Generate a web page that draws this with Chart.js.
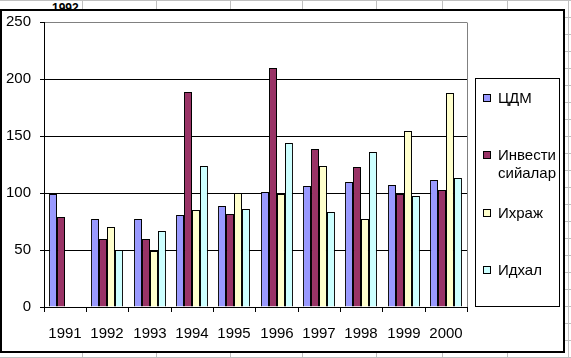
<!DOCTYPE html>
<html>
<head>
  <title>ЦДМ, Инвестисийалар, Ихраж, Идхал</title>
  <script src="https://cdn.jsdelivr.net/npm/chart.js"></script>
  <style>
    body { margin: 0; width: 571px; height: 358px; overflow: hidden; position: relative;
           background: #fff repeating-linear-gradient(to bottom, #c0c0c0 0, #c0c0c0 1px, transparent 1px, transparent 17px);
           font-family: "Liberation Sans", Arial, sans-serif; }
    .col { position: absolute; top: 0; bottom: 0; width: 1px; background: #c0c0c0; }
    #cell { position: absolute; left: 52px; top: 1px; font-weight: bold; font-size: 12px; }
    #frame { position: absolute; left: 0; top: 9px; width: 565px; height: 344px; box-sizing: border-box;
             border: 2px solid #000; background: #fff; }
    #wrap { position: absolute; left: 0; top: 0; width: 561px; height: 340px; }
    #legend { position: absolute; left: 473px; top: 67px; width: 85px; height: 229px; box-sizing: border-box;
              border: 1px solid #000; font-size: 15px; }
    .item { position: absolute; left: 7px; line-height: 18px; }
    .sw { position: absolute; left: 0; top: 5px; width: 6px; height: 6px; border: 1px solid #000; }
    .txt { margin-left: 15px; }
  </style>
</head>
<body>
  <div class="col" style="left:82px"></div>
  <div class="col" style="left:156px"></div>
  <div class="col" style="left:230px"></div>
  <div class="col" style="left:302px"></div>
  <div class="col" style="left:376px"></div>
  <div class="col" style="left:442px"></div>
  <div class="col" style="left:507px"></div>
  <div class="col" style="left:568px"></div>
  <div id="cell">1992</div>
  <div id="frame">
    <div id="wrap"><canvas id="chart"></canvas></div>
    <div id="legend"></div>
  </div>

  <script>
    const years = ['1991', '1992', '1993', '1994', '1995', '1996', '1997', '1998', '1999', '2000'];
    const seriesNames = ['ЦДМ', 'Инвести сийалар', 'Ихраж', 'Идхал'];
    const cdm     = [99, 77, 77, 81, 89, 101, 106, 110, 107, 111];
    const invest  = [79, 60, 60, 189, 82, 210, 139, 123, 99, 103];
    const export_ = [null, 70, 49, 85, 100, 99, 124, 77, 154, 188];
    const import_ = [null, 50, 67, 124, 86, 144, 83, 136, 97, 113];
    const colors = ['#9999ff', '#993366', '#ffffcc', '#ccffff'];
    const yTicks = [0, 50, 100, 150, 200, 250];

    Chart.defaults.font.family = '"Liberation Sans", Arial, sans-serif';
    Chart.defaults.font.size = 15;
    Chart.defaults.color = '#000';

    const values = [cdm, invest, export_, import_];

    // grey right edge of the plot area, like Excel
    const plotBorder = {
      id: 'plotBorder',
      afterDraw(chart) {
        const { ctx, chartArea: a } = chart;
        ctx.save();
        ctx.strokeStyle = '#808080';
        ctx.lineWidth = 1;
        ctx.beginPath();
        ctx.moveTo(Math.round(a.right) + 0.5, Math.round(a.top) + 0.5);
        ctx.lineTo(Math.round(a.right) + 0.5, Math.round(a.bottom));
        ctx.stroke();
        ctx.restore();
      }
    };

    new Chart(document.getElementById('chart'), {
      type: 'bar',
      data: {
        labels: years,
        datasets: values.map((v, i) => ({
          label: seriesNames[i],
          data: v,
          backgroundColor: colors[i],
          borderColor: '#000',
          borderWidth: 1,
          barPercentage: 1,
          categoryPercentage: 0.76
        }))
      },
      options: {
        responsive: true,
        maintainAspectRatio: false,
        animation: false,
        layout: { padding: { top: 11, right: 96, left: 0, bottom: 0 } },
        plugins: { legend: { display: false }, tooltip: { enabled: false } },
        scales: {
          x: {
            alignToPixels: true,
            grid: { drawOnChartArea: false, drawTicks: true, tickLength: 5, color: '#000', offset: true },
            border: { color: '#000' },
            ticks: { padding: 13, maxRotation: 0 },
            afterFit(s) { s.height = 44; s.paddingLeft = 0; s.paddingRight = 0; }
          },
          y: {
            min: 0, max: 250,
            alignToPixels: true,
            afterBuildTicks(s) { s.ticks = yTicks.map(v => ({ value: v })); },
            grid: {
              color: c => c.tick && c.tick.value === 250 ? '#808080' : '#000',
              tickColor: '#000',
              tickLength: 4
            },
            border: { color: '#000' },
            ticks: { padding: 9 },
            afterFit(s) { s.width = 42; s.paddingTop = 0; s.paddingBottom = 0; }
          }
        }
      },
      plugins: [plotBorder]
    });

    // legend built from the same series
    const legend = document.getElementById('legend');
    const tops = [10, 67, 125, 182];
    seriesNames.forEach((name, i) => {
      const d = document.createElement('div');
      d.className = 'item';
      d.style.top = tops[i] + 'px';
      d.innerHTML = '<span class="sw" style="background:' + colors[i] + '"></span><div class="txt">' +
        name.split(' ').join('<br>') + '</div>';
      legend.appendChild(d);
    });
  </script>
</body>
</html>
